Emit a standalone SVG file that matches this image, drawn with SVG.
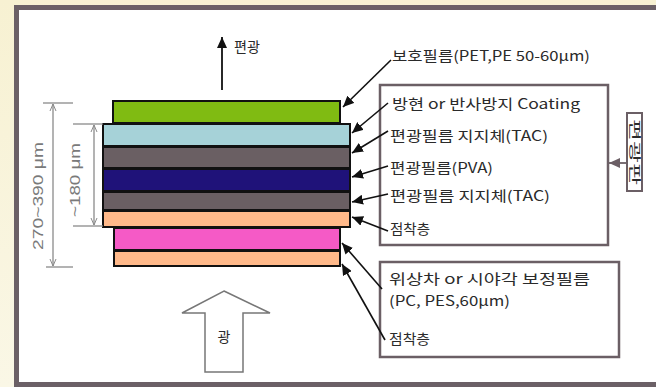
<svg xmlns="http://www.w3.org/2000/svg" width="656" height="387" viewBox="0 0 656 387">
<defs>
<linearGradient id="bg" x1="0" y1="0" x2="0" y2="1">
<stop offset="0" stop-color="#f7f1d2"/>
<stop offset="1" stop-color="#faf7e6"/>
</linearGradient>
<marker id="ah" markerUnits="userSpaceOnUse" markerWidth="12" markerHeight="10" refX="11" refY="5" orient="auto">
<path d="M0,0 L11,5 L0,10 z" fill="#111"/>
</marker>
<marker id="ahg" markerUnits="userSpaceOnUse" markerWidth="12" markerHeight="10" refX="11" refY="5" orient="auto">
<path d="M0,0 L11,5 L0,10 z" fill="#6b5f65"/>
</marker>
<marker id="dim" markerUnits="userSpaceOnUse" markerWidth="8" markerHeight="8" refX="7" refY="4" orient="auto">
<path d="M0,1 L7,4 L0,7" fill="none" stroke="#8a8a8a" stroke-width="1"/>
</marker>
</defs>
<style>
.t{font-family:"Noto Sans CJK KR","Noto Sans",sans-serif;font-size:14px;fill:#2a2a2a}
.d{font-family:"Liberation Sans","Noto Sans CJK KR",sans-serif;font-size:14px;fill:#7a7a7a}
.layer{stroke:#111;stroke-width:2}
.box{fill:none;stroke:#6b5f65;stroke-width:2.5}
.lead{stroke:#111;stroke-width:1.6;fill:none;marker-end:url(#ah)}
.dl{stroke:#8a8a8a;stroke-width:1.3;fill:none}
</style>
<rect x="0" y="0" width="656" height="387" fill="url(#bg)"/>
<rect x="16.5" y="7.5" width="660" height="377" fill="#ffffff" stroke="#6b6066" stroke-width="5"/>

<g id="layers">
<rect class="layer" x="113" y="101" width="227" height="22" fill="#80bb12"/>
<rect class="layer" x="103" y="124" width="247" height="22" fill="#a6d2d8"/>
<rect class="layer" x="103" y="147" width="247" height="21" fill="#6a5f63"/>
<rect class="layer" x="103" y="169" width="247" height="22" fill="#1f1279"/>
<rect class="layer" x="103" y="192" width="247" height="18" fill="#6a5f63"/>
<rect class="layer" x="103" y="211" width="247" height="16" fill="#ffb98a"/>
<rect class="layer" x="114" y="228" width="226" height="22" fill="#f55ac6"/>
<rect class="layer" x="114" y="251" width="226" height="15" fill="#ffb98a"/>
</g>

<g id="dim-outer">
<line class="dl" x1="43" y1="103" x2="73" y2="103"/>
<line class="dl" x1="46" y1="267" x2="73" y2="267"/>
<line class="dl" x1="53" y1="185" x2="53" y2="104" marker-end="url(#dim)"/>
<line class="dl" x1="53" y1="185" x2="53" y2="266" marker-end="url(#dim)"/>
<text class="d" transform="translate(38,196) rotate(-90)" text-anchor="middle" dominant-baseline="central" textLength="108" lengthAdjust="spacingAndGlyphs">270~390 μm</text>
</g>
<g id="dim-inner">
<line class="dl" x1="73" y1="124" x2="103" y2="124"/>
<line class="dl" x1="73" y1="226" x2="103" y2="226"/>
<line class="dl" x1="94" y1="175" x2="94" y2="125" marker-end="url(#dim)"/>
<line class="dl" x1="94" y1="175" x2="94" y2="225" marker-end="url(#dim)"/>
<text class="d" transform="translate(75,180) rotate(-90)" text-anchor="middle" dominant-baseline="central" textLength="74" lengthAdjust="spacingAndGlyphs">~180 μm</text>
</g>

<g id="polarized-out">
<line x1="222" y1="90" x2="222" y2="37" stroke="#111" stroke-width="1.8" marker-end="url(#ah)"/>
<text class="t" x="234" y="52" textLength="26" lengthAdjust="spacingAndGlyphs">편광</text>
</g>

<g id="light-in">
<polygon points="224,291 270,313 243,313 243,372 205,372 205,313 182,313" fill="#fff" stroke="#777" stroke-width="1.5"/>
<text class="t" x="224" y="342" text-anchor="middle">광</text>
</g>

<g id="protect-label">
<text class="t" x="392" y="61" textLength="198" lengthAdjust="spacingAndGlyphs">보호필름(PET,PE 50-60μm)</text>
</g>

<g id="polarizer-box">
<rect class="box" x="380" y="85" width="228" height="160"/>
<text class="t" x="392" y="109" textLength="188" lengthAdjust="spacingAndGlyphs">방현 or 반사방지 Coating</text>
<text class="t" x="390" y="141" textLength="158" lengthAdjust="spacingAndGlyphs">편광필름 지지체(TAC)</text>
<text class="t" x="390" y="173" textLength="103" lengthAdjust="spacingAndGlyphs">편광필름(PVA)</text>
<text class="t" x="390" y="201" textLength="160" lengthAdjust="spacingAndGlyphs">편광필름 지지체(TAC)</text>
<text class="t" x="390" y="234" textLength="40" lengthAdjust="spacingAndGlyphs">점착층</text>
</g>

<g id="polarizer-label">
<rect x="627" y="113" width="15" height="78" fill="#fff" stroke="#6b5f65" style="stroke-width:2"/>
<text class="t" transform="translate(634.5,152) rotate(90)" text-anchor="middle" y="4.5" style="font-size:12px" textLength="66" lengthAdjust="spacingAndGlyphs">편광판</text>
</g>

<g id="retarder-box">
<rect class="box" x="380" y="262" width="239" height="95"/>
<text class="t" x="389" y="284" textLength="201" lengthAdjust="spacingAndGlyphs">위상차 or 시야각 보정필름</text>
<text class="t" x="389" y="306" textLength="121" lengthAdjust="spacingAndGlyphs">(PC, PES,60μm)</text>
<text class="t" x="389" y="344" textLength="41" lengthAdjust="spacingAndGlyphs">점착층</text>
</g>

<g id="connectors">
<line class="lead" x1="391" y1="60" x2="343" y2="107"/>
<line class="lead" x1="388" y1="103" x2="352" y2="133"/>
<line class="lead" x1="388" y1="131" x2="352" y2="153"/>
<line class="lead" x1="388" y1="166" x2="352" y2="177"/>
<line class="lead" x1="388" y1="194" x2="352" y2="202"/>
<line class="lead" x1="388" y1="231" x2="352" y2="217"/>
<line class="lead" x1="382" y1="289" x2="342" y2="243"/>
<line class="lead" x1="385" y1="340" x2="342" y2="264"/>
<line x1="627" y1="163" x2="609" y2="163" stroke="#6b5f65" stroke-width="1.8" marker-end="url(#ahg)"/>
</g>
</svg>
